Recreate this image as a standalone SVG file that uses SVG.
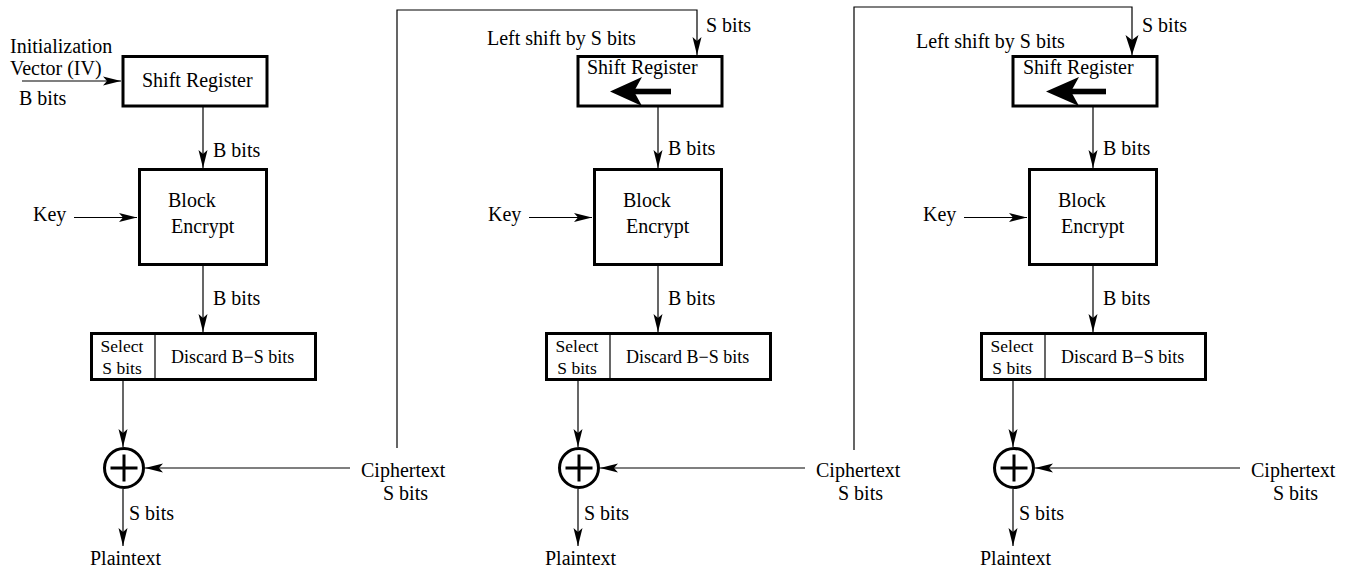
<svg xmlns="http://www.w3.org/2000/svg" width="1350" height="571" viewBox="0 0 1350 571">
<style>
text{font-family:"Liberation Serif","Times New Roman",serif;fill:#000;font-size:20px}
.sm{font-size:18px}
.sel{font-size:17.5px}
.box{fill:#fff;stroke:#000;stroke-width:3}
.thin{fill:none;stroke:#000;stroke-width:1.2}
.thick{fill:none;stroke:#000;stroke-width:3}
.arr{fill:none;stroke:#000;stroke-width:1.2;marker-end:url(#ah)}
.arrL{fill:none;stroke:#000;stroke-width:1.2;marker-end:url(#ahL)}
</style>
<defs>
<marker id="ah" markerUnits="userSpaceOnUse" markerWidth="18" markerHeight="9" refX="18" refY="4.5" orient="auto" overflow="visible">
<path d="M0,0 L18,4.5 L0,9 L4,4.5 Z" fill="#000"/>
</marker>
<marker id="ahL" markerUnits="userSpaceOnUse" markerWidth="20" markerHeight="13" refX="20" refY="6.5" orient="auto" overflow="visible">
<path d="M0,0 L20,6.5 L0,13 L5,6.5 Z" fill="#000"/>
</marker>
</defs>

<!-- Column 1 -->
<g id="iv-label">
<text x="10" y="53" font-size="17.5">Initialization</text>
<text x="10" y="75">Vector (IV)</text>
<text x="19" y="105">B bits</text>
</g>
<g id="sr1">
<rect class="box" x="123" y="56.5" width="144" height="49.5"/>
<text x="142" y="87">Shift Register</text>
</g>
<g id="be1">
<rect class="box" x="139.5" y="169.5" width="127" height="95"/>
<text x="168" y="207">Block</text>
<text x="171" y="233">Encrypt</text>
</g>
<g id="key1"><text x="33" y="221">Key</text></g>
<g id="sel1">
<rect class="box" x="91.5" y="333.5" width="224" height="46"/>
<line class="thin" x1="155" y1="334" x2="155" y2="379"/>
<text class="sel" x="122" y="352" text-anchor="middle">Select</text>
<text class="sel" x="122" y="374" text-anchor="middle">S bits</text>
<text class="sm" x="171" y="363">Discard B−S bits</text>
</g>
<g id="xor1">
<circle class="thick" cx="124" cy="468" r="19.5"/>
<path class="thick" d="M110.5,468 H137.5 M124,454.5 V481.5"/>
</g>
<g id="ct1">
<text x="361" y="477">Ciphertext</text>
<text x="383" y="500">S bits</text>
</g>
<g id="pt1"><text x="90" y="565">Plaintext</text></g>

<!-- Column 2 -->
<g id="ls2"><text x="487" y="45">Left shift by S bits</text></g>
<g id="sr2">
<rect class="box" x="578" y="56.5" width="144" height="49.5"/>
<text x="587" y="74">Shift Register</text>
<polygon points="610,91.5 642,77 634,91.5 642,106" fill="#000"/>
<rect x="633" y="88.7" width="38" height="5.6" fill="#000"/>
</g>
<g id="be2">
<rect class="box" x="594.5" y="169.5" width="127" height="95"/>
<text x="623" y="207">Block</text>
<text x="626" y="233">Encrypt</text>
</g>
<g id="key2"><text x="488" y="221">Key</text></g>
<g id="sel2">
<rect class="box" x="546.5" y="333.5" width="224" height="46"/>
<line class="thin" x1="610" y1="334" x2="610" y2="379"/>
<text class="sel" x="577" y="352" text-anchor="middle">Select</text>
<text class="sel" x="577" y="374" text-anchor="middle">S bits</text>
<text class="sm" x="626" y="363">Discard B−S bits</text>
</g>
<g id="xor2">
<circle class="thick" cx="579" cy="468" r="19.5"/>
<path class="thick" d="M565.5,468 H592.5 M579,454.5 V481.5"/>
</g>
<g id="ct2">
<text x="816" y="477">Ciphertext</text>
<text x="838" y="500">S bits</text>
</g>
<g id="pt2"><text x="545" y="565">Plaintext</text></g>

<!-- Column 3 -->
<g id="ls3"><text x="916" y="48">Left shift by S bits</text></g>
<g id="sr3">
<rect class="box" x="1013" y="56.5" width="144" height="49.5"/>
<text x="1023" y="74">Shift Register</text>
<polygon points="1046,91.5 1079,77 1071,91.5 1079,106" fill="#000"/>
<rect x="1070" y="88.7" width="36" height="5.6" fill="#000"/>
</g>
<g id="be3">
<rect class="box" x="1029.5" y="169.5" width="127" height="95"/>
<text x="1058" y="207">Block</text>
<text x="1061" y="233">Encrypt</text>
</g>
<g id="key3"><text x="923" y="221">Key</text></g>
<g id="sel3">
<rect class="box" x="981.5" y="333.5" width="224" height="46"/>
<line class="thin" x1="1045" y1="334" x2="1045" y2="379"/>
<text class="sel" x="1012" y="352" text-anchor="middle">Select</text>
<text class="sel" x="1012" y="374" text-anchor="middle">S bits</text>
<text class="sm" x="1061" y="363">Discard B−S bits</text>
</g>
<g id="xor3">
<circle class="thick" cx="1014" cy="468" r="19.5"/>
<path class="thick" d="M1000.5,468 H1027.5 M1014,454.5 V481.5"/>
</g>
<g id="ct3">
<text x="1251" y="477">Ciphertext</text>
<text x="1273" y="500">S bits</text>
</g>
<g id="pt3"><text x="980" y="565">Plaintext</text></g>

<!-- Connectors -->
<g id="connectors">
<line class="arr" x1="22" y1="81" x2="121" y2="81"/>
<line class="arr" x1="203" y1="107" x2="203" y2="168"/>
<line class="arr" x1="74" y1="217.5" x2="137" y2="217.5"/>
<line class="arr" x1="203" y1="266" x2="203" y2="332"/>
<line class="arr" x1="123" y1="381" x2="123" y2="447"/>
<line class="arr" x1="350" y1="468" x2="145" y2="468"/>
<line class="arr" x1="123" y1="489" x2="123" y2="546"/>

<polyline class="arr" points="397,448 397,10 697,10 697,55"/>
<line class="arr" x1="658" y1="107" x2="658" y2="168"/>
<line class="arr" x1="529" y1="217.5" x2="592" y2="217.5"/>
<line class="arr" x1="658" y1="266" x2="658" y2="332"/>
<line class="arr" x1="578" y1="381" x2="578" y2="447"/>
<line class="arr" x1="805" y1="468" x2="600" y2="468"/>
<line class="arr" x1="578" y1="489" x2="578" y2="546"/>

<polyline class="arrL" points="854,450 854,7 1132,7 1132,55"/>
<line class="arr" x1="1093" y1="107" x2="1093" y2="168"/>
<line class="arr" x1="964" y1="217.5" x2="1027" y2="217.5"/>
<line class="arr" x1="1093" y1="266" x2="1093" y2="332"/>
<line class="arr" x1="1013" y1="381" x2="1013" y2="447"/>
<line class="arr" x1="1240" y1="468" x2="1035" y2="468"/>
<line class="arr" x1="1013" y1="489" x2="1013" y2="546"/>
</g>

<g id="edge-labels">
<text x="213" y="157">B bits</text>
<text x="213" y="305">B bits</text>
<text x="129" y="520">S bits</text>
<text x="706" y="32">S bits</text>
<text x="668" y="155">B bits</text>
<text x="668" y="305">B bits</text>
<text x="584" y="520">S bits</text>
<text x="1142" y="32">S bits</text>
<text x="1103" y="155">B bits</text>
<text x="1103" y="305">B bits</text>
<text x="1019" y="520">S bits</text>
</g>
</svg>
